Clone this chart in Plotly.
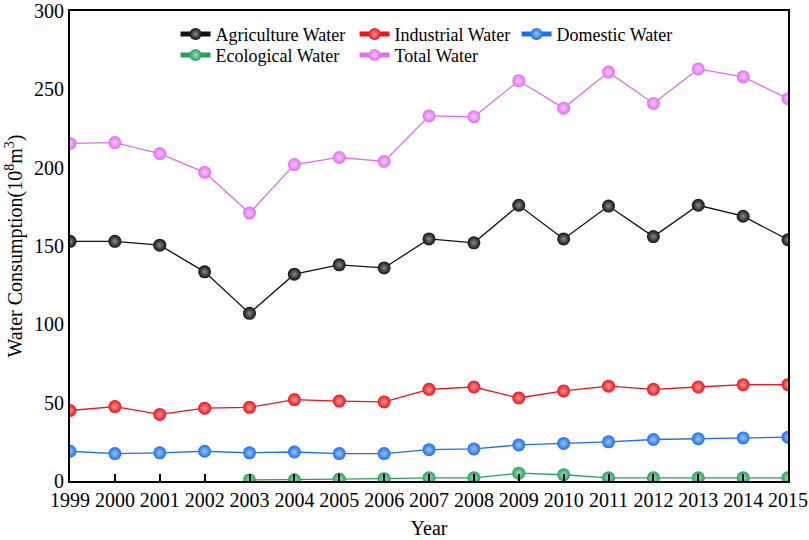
"""
Water consumption by sector, 1999-2015
"""
import plotly.graph_objects as go

years = list(range(1999, 2016))

agriculture = [153, 153, 150.5, 133.5, 107, 132, 138, 136, 154.5, 152, 176, 154.5, 175.5, 156, 176, 169, 154]
industrial = [45, 47.5, 42.5, 46.5, 47, 52, 51, 50.5, 58.5, 60, 53, 57.5, 60.5, 58.5, 60, 61.5, 61.5]
domestic = [19, 17.5, 18, 19, 18, 18.5, 17.5, 17.5, 20, 20.5, 23, 24, 25, 26.5, 27, 27.5, 28]
eco_years = list(range(2003, 2016))
ecological = [0.7, 0.8, 1.2, 1.5, 2, 2, 5, 4, 2, 2, 2, 2, 2]
total = [215.5, 216, 209, 197, 171, 202, 206.5, 204, 233, 232.5, 255.5, 238, 261, 241, 263, 258, 244]

FONT = "Liberation Serif, Times New Roman, serif"

# name, x, y, line colour, highlight colour, legend, legend width
series = [
    ("Agriculture Water", years, agriculture, "#111111", "#8a8a8a", "legend", 134),
    ("Industrial Water", years, industrial, "#e8141c", "#ff9a9a", "legend", 117),
    ("Domestic Water", years, domestic, "#1f6fe0", "#9cc4ff", "legend", 120),
    ("Ecological Water", eco_years, ecological, "#27a060", "#9be0b8", "legend2", 134),
    ("Total Water", years, total, "#e070ee", "#f8c8ff", "legend2", 90),
]

fig = go.Figure()
for name, x, y, color, light, leg, lw in series:
    fig.add_trace(go.Scatter(
        x=x, y=y, name=name, mode="lines+markers",
        line=dict(color=color, width=1.3),
        marker=dict(size=13, color=color,
                    gradient=dict(type="radial", color=light),
                    line=dict(width=0)),
        legend=leg, legendwidth=lw,
    ))

fig.update_layout(
    width=809, height=540,
    margin=dict(l=70, r=21, t=11, b=59),
    paper_bgcolor="white", plot_bgcolor="white",
    font=dict(family=FONT, size=20, color="black"),
    showlegend=True,
    legend=dict(orientation="h", x=0.147, y=0.99, xanchor="left", yanchor="top",
                bgcolor="rgba(0,0,0,0)", font=dict(size=18), itemsizing="constant"),
    legend2=dict(orientation="h", x=0.147, y=0.945, xanchor="left", yanchor="top",
                 bgcolor="rgba(0,0,0,0)", font=dict(size=18), itemsizing="constant"),
)

fig.update_xaxes(
    range=[1999, 2015], tickmode="array", tickvals=years,
    ticks="inside", ticklen=7, tickwidth=1.5, tickcolor="black",
    showline=True, linecolor="black", linewidth=2, mirror=True,
    showgrid=False, zeroline=False, automargin=False, ticklabeloverflow="allow",
    title=dict(text="Year", font=dict(size=20), standoff=11),
)
fig.update_yaxes(
    range=[0, 300], tickvals=[0, 50, 100, 150, 200, 250, 300],
    ticks="", showline=True, linecolor="black", linewidth=2, mirror=True,
    showgrid=False, zeroline=False, automargin=False, ticklabeloverflow="allow",
    title=dict(text="Water Consumption(10<sup>8</sup>m<sup>3</sup>)", font=dict(size=20), standoff=6),
)

# drop the page's default body margin so the figure sits at the window corner
fig.write_html("out.html", config={"displayModeBar": False},
               post_script="document.body.style.margin='0';")
